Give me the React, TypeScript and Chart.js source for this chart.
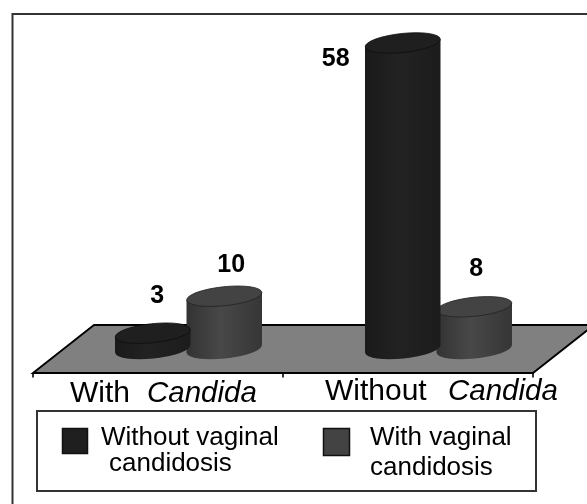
import React, { useEffect, useRef } from "react";
import { Chart, registerables } from "chart.js";

Chart.register(...registerables);

const categories = ["With Candida", "Without Candida"];
const seriesNames = ["Without vaginal candidosis", "With vaginal candidosis"];
const withoutVaginal = [3, 58];
const withVaginal = [10, 8];
const seriesColors = ["#1f1f1f", "#434343"];

const FONT = '"Liberation Sans", Arial, sans-serif';
const DEPTH_X = 30.5;
const DEPTH_Y = 24;
const CAP_B = 9.5;
const TILT = (-6 * Math.PI) / 180;

// label offsets from each bar top, [dx, dy] per dataset and category
const valueOffsets = [
  [[4.5, -30], [-67, 23]],
  [[7, -24], [2, -31]],
];

function ellipse(ctx: CanvasRenderingContext2D, x: number, y: number, a: number) {
  ctx.beginPath();
  ctx.ellipse(x, y, a, CAP_B, TILT, 0, Math.PI * 2);
}

function drawCylinder(ctx: CanvasRenderingContext2D, bar: any, shades: string[], capColor: string, lineColor: string) {
  const { x, y, base, width } = bar.getProps(["x", "y", "base", "width"], true);
  const a = width / 2;
  const t = a * Math.sin(-TILT) * Math.cos(TILT) * (1 - (CAP_B * CAP_B) / (a * a));
  const g = ctx.createLinearGradient(x - a, 0, x + a, 0);
  g.addColorStop(0, shades[0]);
  g.addColorStop(0.45, shades[1]);
  g.addColorStop(1, shades[2]);
  ctx.fillStyle = g;
  ellipse(ctx, x, base, a);
  ctx.fill();
  ctx.beginPath();
  ctx.moveTo(x - a, y + t);
  ctx.lineTo(x - a, base + t);
  ctx.lineTo(x + a, base - t);
  ctx.lineTo(x + a, y - t);
  ctx.closePath();
  ctx.fill();
  ellipse(ctx, x, y, a);
  ctx.fillStyle = capColor;
  ctx.fill();
  ctx.strokeStyle = lineColor;
  ctx.lineWidth = 0.8;
  ctx.stroke();
}

const shadeSets = [
  ["#1a1a1a", "#222222", "#1c1c1c"],
  ["#333333", "#484848", "#363636"],
];
const capLines = ["#0e0e0e", "#222222"];

const scene3d = {
  id: "scene3d",
  beforeDatasetsDraw(chart: any) {
    const { ctx, chartArea: ca } = chart;
    const baseY = chart.scales.y.getPixelForValue(0);
    const fl = ca.left - DEPTH_X, fr = ca.right - DEPTH_X;
    const by = baseY - DEPTH_Y, fy = baseY + DEPTH_Y;
    ctx.save();
    // outer frame
    ctx.strokeStyle = "#333333";
    ctx.lineWidth = 2;
    ctx.beginPath();
    ctx.moveTo(12.5, 504);
    ctx.lineTo(12.5, 14);
    ctx.lineTo(587, 14);
    ctx.stroke();
    // floor
    ctx.beginPath();
    ctx.moveTo(fl, fy);
    ctx.lineTo(fl + 2 * DEPTH_X, by);
    ctx.lineTo(fr + 2 * DEPTH_X, by);
    ctx.lineTo(fr, fy);
    ctx.closePath();
    ctx.fillStyle = "#808080";
    ctx.fill();
    ctx.strokeStyle = "#000000";
    ctx.lineWidth = 1.8;
    ctx.stroke();
    // axis ticks
    ctx.lineWidth = 1.6;
    [0, 1, 2].forEach((i) => {
      const x = fl + ((fr - fl) * i) / 2;
      ctx.beginPath();
      ctx.moveTo(x, fy);
      ctx.lineTo(x, fy + 4.5);
      ctx.stroke();
    });
    ctx.restore();
  },
  beforeDatasetDraw(chart: any, args: any) {
    const { ctx } = chart;
    const i = args.index;
    ctx.save();
    chart.getDatasetMeta(i).data.forEach((bar: any) => {
      drawCylinder(ctx, bar, shadeSets[i], chart.data.datasets[i].backgroundColor, capLines[i]);
    });
    ctx.restore();
    return false;
  },
  afterDatasetsDraw(chart: any) {
    const { ctx } = chart;
    ctx.save();
    ctx.textBaseline = "alphabetic";
    // value labels
    ctx.fillStyle = "#000000";
    ctx.font = `bold 25px ${FONT}`;
    ctx.textAlign = "center";
    chart.data.datasets.forEach((ds: any, i: number) => {
      chart.getDatasetMeta(i).data.forEach((bar: any, j: number) => {
        const [dx, dy] = valueOffsets[i][j];
        ctx.fillText(String(ds.data[j]), bar.x + dx, bar.y + dy);
      });
    });
    // category labels, with the genus name in italics
    ctx.textAlign = "left";
    const [w1, g1] = categories[0].split(" ");
    const [w2, g2] = categories[1].split(" ");
    ctx.font = `30px ${FONT}`;
    ctx.fillText(w1, 70, 402);
    ctx.fillText(w2, 325, 400);
    ctx.font = `italic 29.5px ${FONT}`;
    ctx.fillText(g1, 147, 402);
    ctx.fillText(g2, 448, 400);
    // legend
    ctx.fillStyle = "#ffffff";
    ctx.strokeStyle = "#333333";
    ctx.lineWidth = 2;
    ctx.fillRect(37, 411, 499, 80);
    ctx.strokeRect(37, 411, 499, 80);
    ctx.lineWidth = 1.5;
    ctx.strokeStyle = "#111111";
    ctx.fillStyle = seriesColors[0];
    ctx.fillRect(62.5, 428.5, 25, 25);
    ctx.strokeRect(62.5, 428.5, 25, 25);
    ctx.fillStyle = seriesColors[1];
    ctx.fillRect(323.5, 428.5, 26, 27);
    ctx.strokeRect(323.5, 428.5, 26, 27);
    ctx.fillStyle = "#000000";
    ctx.font = `26px ${FONT}`;
    const a = seriesNames[0].split(" ");
    const b = seriesNames[1].split(" ");
    ctx.fillText(`${a[0]} ${a[1]}`, 101, 445);
    ctx.fillText(a[2], 109, 471);
    ctx.fillText(`${b[0]} ${b[1]}`, 370, 445);
    ctx.fillText(b[2], 370, 475);
    ctx.restore();
  },
};

export default function App() {
  const ref = useRef<HTMLCanvasElement>(null);
  useEffect(() => {
    const chart = new Chart(ref.current!, {
      type: "bar",
      data: {
        labels: categories,
        datasets: [
          { label: seriesNames[0], data: withoutVaginal, backgroundColor: seriesColors[0] },
          { label: seriesNames[1], data: withVaginal, backgroundColor: seriesColors[1] },
        ],
      },
      options: {
        animation: false,
        responsive: false,
        layout: { padding: { left: 63.5, right: 23.5, top: 32.4, bottom: 155 } },
        datasets: { bar: { categoryPercentage: 0.572, barPercentage: 1.056 } },
        scales: {
          x: { display: false },
          y: { display: false, min: 0, max: 60 },
        },
        plugins: { legend: { display: false }, tooltip: { enabled: false } },
      },
      plugins: [scene3d],
    } as any);
    return () => chart.destroy();
  }, []);
  return (
    <canvas
      ref={ref}
      width={587}
      height={504}
      style={{ position: "fixed", left: 0, top: 0, display: "block" }}
    />
  );
}
